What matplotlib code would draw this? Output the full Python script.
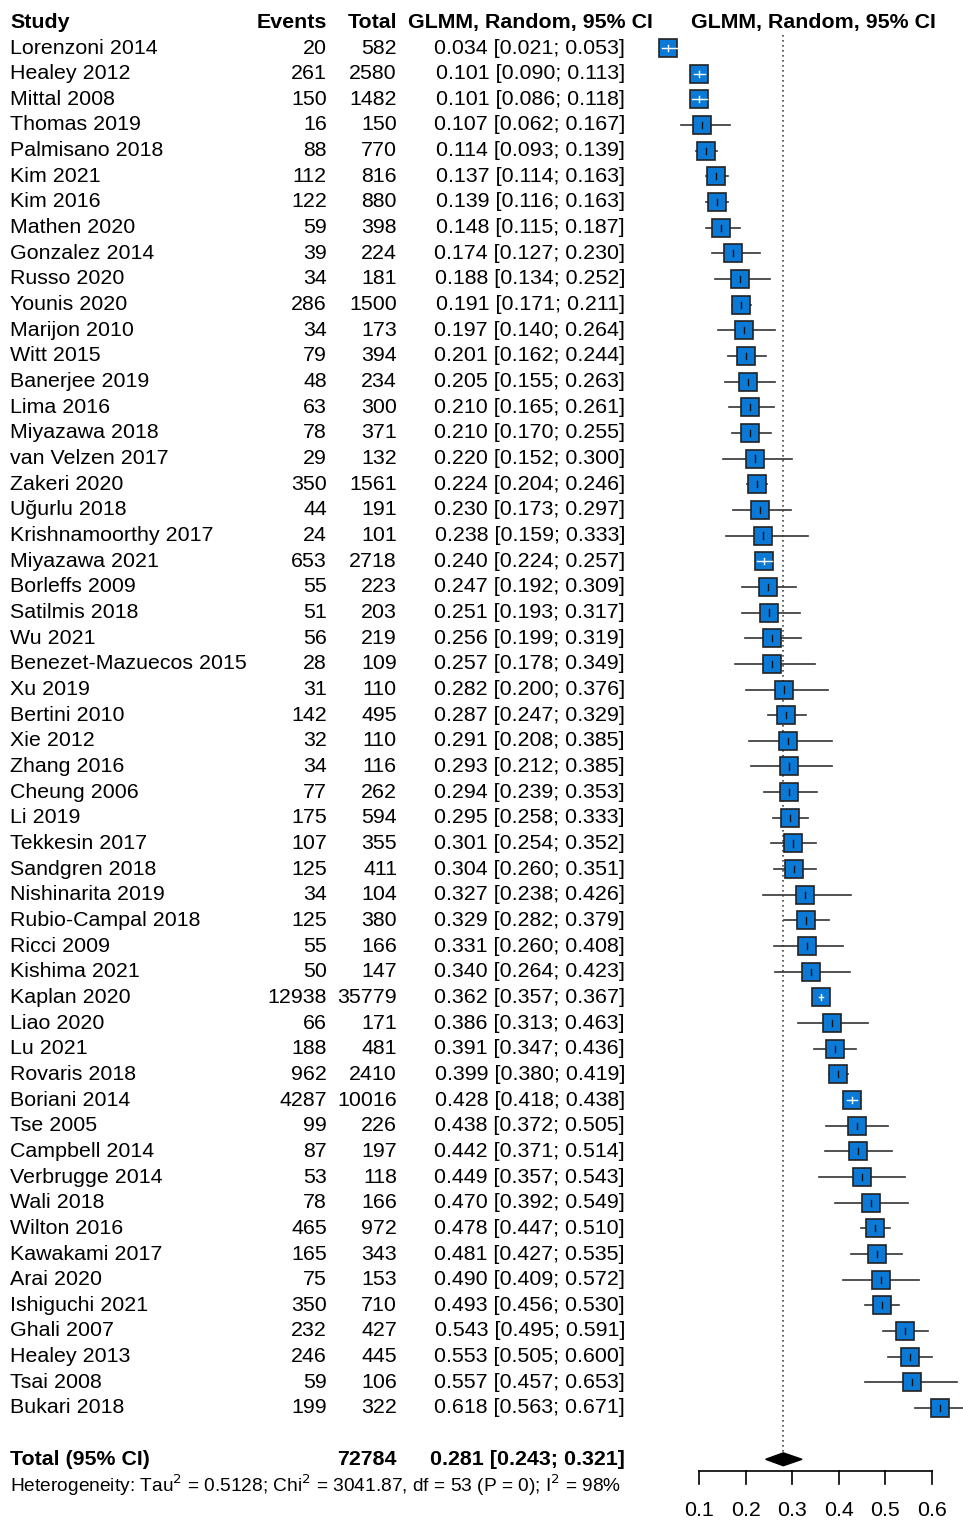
import matplotlib.pyplot as plt
from matplotlib.patches import Polygon

studies = ["Lorenzoni 2014", "Healey 2012", "Mittal 2008", "Thomas 2019", "Palmisano 2018", "Kim 2021",
           "Kim 2016", "Mathen 2020", "Gonzalez 2014", "Russo 2020", "Younis 2020", "Marijon 2010",
           "Witt 2015", "Banerjee 2019", "Lima 2016", "Miyazawa 2018", "van Velzen 2017", "Zakeri 2020",
           "Uğurlu 2018", "Krishnamoorthy 2017", "Miyazawa 2021", "Borleffs 2009", "Satilmis 2018",
           "Wu 2021", "Benezet-Mazuecos 2015", "Xu 2019", "Bertini 2010", "Xie 2012", "Zhang 2016",
           "Cheung 2006", "Li 2019", "Tekkesin 2017", "Sandgren 2018", "Nishinarita 2019",
           "Rubio-Campal 2018", "Ricci 2009", "Kishima 2021", "Kaplan 2020", "Liao 2020", "Lu 2021",
           "Rovaris 2018", "Boriani 2014", "Tse 2005", "Campbell 2014", "Verbrugge 2014", "Wali 2018",
           "Wilton 2016", "Kawakami 2017", "Arai 2020", "Ishiguchi 2021", "Ghali 2007", "Healey 2013",
           "Tsai 2008", "Bukari 2018"]
events = [20, 261, 150, 16, 88, 112, 122, 59, 39, 34, 286, 34, 79, 48, 63, 78, 29, 350, 44, 24, 653,
          55, 51, 56, 28, 31, 142, 32, 34, 77, 175, 107, 125, 34, 125, 55, 50, 12938, 66, 188, 962,
          4287, 99, 87, 53, 78, 465, 165, 75, 350, 232, 246, 59, 199]
totals = [582, 2580, 1482, 150, 770, 816, 880, 398, 224, 181, 1500, 173, 394, 234, 300, 371, 132,
          1561, 191, 101, 2718, 223, 203, 219, 109, 110, 495, 110, 116, 262, 594, 355, 411, 104, 380,
          166, 147, 35779, 171, 481, 2410, 10016, 226, 197, 118, 166, 972, 343, 153, 710, 427, 445,
          106, 322]
est = [0.034, 0.101, 0.101, 0.107, 0.114, 0.137, 0.139, 0.148, 0.174, 0.188, 0.191, 0.197, 0.201,
       0.205, 0.210, 0.210, 0.220, 0.224, 0.230, 0.238, 0.240, 0.247, 0.251, 0.256, 0.257, 0.282,
       0.287, 0.291, 0.293, 0.294, 0.295, 0.301, 0.304, 0.327, 0.329, 0.331, 0.340, 0.362, 0.386,
       0.391, 0.399, 0.428, 0.438, 0.442, 0.449, 0.470, 0.478, 0.481, 0.490, 0.493, 0.543, 0.553,
       0.557, 0.618]
lower = [0.021, 0.090, 0.086, 0.062, 0.093, 0.114, 0.116, 0.115, 0.127, 0.134, 0.171, 0.140, 0.162,
         0.155, 0.165, 0.170, 0.152, 0.204, 0.173, 0.159, 0.224, 0.192, 0.193, 0.199, 0.178, 0.200,
         0.247, 0.208, 0.212, 0.239, 0.258, 0.254, 0.260, 0.238, 0.282, 0.260, 0.264, 0.357, 0.313,
         0.347, 0.380, 0.418, 0.372, 0.371, 0.357, 0.392, 0.447, 0.427, 0.409, 0.456, 0.495, 0.505,
         0.457, 0.563]
upper = [0.053, 0.113, 0.118, 0.167, 0.139, 0.163, 0.163, 0.187, 0.230, 0.252, 0.211, 0.264, 0.244,
         0.263, 0.261, 0.255, 0.300, 0.246, 0.297, 0.333, 0.257, 0.309, 0.317, 0.319, 0.349, 0.376,
         0.329, 0.385, 0.385, 0.353, 0.333, 0.352, 0.351, 0.426, 0.379, 0.408, 0.423, 0.367, 0.463,
         0.436, 0.419, 0.438, 0.505, 0.514, 0.543, 0.549, 0.510, 0.535, 0.572, 0.530, 0.591, 0.600,
         0.653, 0.671]
total_n = 72784
pooled, pooled_lo, pooled_hi = 0.281, 0.243, 0.321
xticks = [0.1, 0.2, 0.3, 0.4, 0.5, 0.6]

plt.rcParams['font.family'] = ['Liberation Sans', 'DejaVu Sans']
W, H = 963, 1521
fig = plt.figure(figsize=(W / 100, H / 100), dpi=100)

row0, step = 48, 25.66
ylim = ((H - row0) / step, -row0 / step)
fs = 15.4

# text table
tx = fig.add_axes([0, 0, 1, 1])
tx.set_xlim(0, W)
tx.set_ylim(*ylim)
tx.axis('off')
tx.text(10, -1, "Study", fontsize=fs, fontweight='bold', va='center')
tx.text(327, -1, "Events", fontsize=fs, fontweight='bold', va='center', ha='right')
tx.text(397, -1, "Total", fontsize=fs, fontweight='bold', va='center', ha='right')
tx.text(530, -1, "GLMM, Random, 95% CI", fontsize=fs, fontweight='bold', va='center', ha='center')
tx.text(813, -1, "GLMM, Random, 95% CI", fontsize=fs, fontweight='bold', va='center', ha='center')
for i, s in enumerate(studies):
    tx.text(10, i, s, fontsize=fs, va='center')
    tx.text(327, i, str(events[i]), fontsize=fs, va='center', ha='right')
    tx.text(397, i, str(totals[i]), fontsize=fs, va='center', ha='right')
    tx.text(625, i, f"{est[i]:.3f} [{lower[i]:.3f}; {upper[i]:.3f}]", fontsize=fs, va='center', ha='right')
yt = len(studies) + 1
tx.text(10, yt, "Total (95% CI)", fontsize=fs, fontweight='bold', va='center')
tx.text(397, yt, str(total_n), fontsize=fs, fontweight='bold', va='center', ha='right')
tx.text(625, yt, f"{pooled:.3f} [{pooled_lo:.3f}; {pooled_hi:.3f}]", fontsize=fs, fontweight='bold',
        va='center', ha='right')
tx.text(10, yt + 1, r"Heterogeneity: Tau$^2$ = 0.5128; Chi$^2$ = 3041.87, df = 53 (P = 0); I$^2$ = 98%",
        fontsize=13.8, va='center')

# forest panel
px = 466.0
ax = fig.add_axes([0, 0, 1, 1])
ax.patch.set_alpha(0)
ax.set_xlim(0.1 - 699 / px, 0.1 + (W - 699) / px)
ax.set_ylim(*ylim)
ax.axis('off')
half = 0.0195
ax.plot([pooled, pooled], [-0.5, yt - 0.2], color='#444444', ls=(0, (1, 2)), lw=1.2)
for i in range(len(studies)):
    inside = lower[i] >= est[i] - half and upper[i] <= est[i] + half
    if not inside:
        ax.plot([lower[i], upper[i]], [i, i], color='#333333', lw=1.2, zorder=2)
    ax.plot(est[i], i, marker='s', ms=13.5, mfc='#0a7ad6', mec='#222222', mew=1.2, zorder=3)
    c = 'white' if inside else '#111111'
    if inside:
        ax.plot([lower[i], upper[i]], [i, i], color=c, lw=1, zorder=4)
    ax.plot([est[i], est[i]], [i - 0.12, i + 0.12], color=c, lw=1, zorder=4)
ax.add_patch(Polygon([[pooled_lo, yt], [pooled, yt - 0.25], [pooled_hi, yt], [pooled, yt + 0.25]],
                     closed=True, color='black', zorder=3))
ya = (1471 - row0) / step
ax.plot([xticks[0], xticks[-1]], [ya, ya], color='black', lw=1.2)
for t in xticks:
    ax.plot([t, t], [ya, ya + 13 / step], color='black', lw=1.2)
    ax.text(t, (1510 - row0) / step, f"{t:.1f}", fontsize=fs, ha='center', va='center')

fig.savefig("out.png", dpi=100)
